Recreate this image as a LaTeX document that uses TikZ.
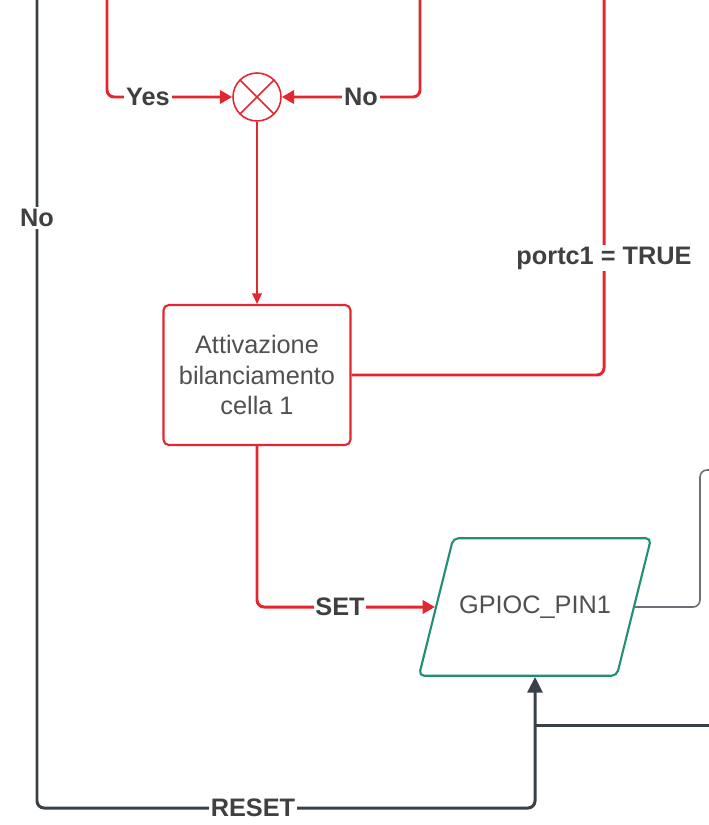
\documentclass[tikz,border=0pt]{standalone}
\usepackage{fontspec}
\setmainfont{Liberation Sans}
\usetikzlibrary{shapes.geometric,arrows.meta,positioning}
\definecolor{lucidred}{HTML}{E3262F}
\definecolor{slategray}{HTML}{3A4048}
\definecolor{tealedge}{HTML}{1F8F74}
\definecolor{textgray}{HTML}{505050}

\begin{document}
\begin{tikzpicture}[x=0.02cm,y=-0.02cm,
  every node/.style={font=\fontsize{14.4}{17.5}\selectfont},
  redline/.style={draw=lucidred,line width=1.7pt,rounded corners=4pt},
  thinred/.style={draw=lucidred,line width=0.9pt},
  darkline/.style={draw=slategray,line width=1.7pt,rounded corners=4pt},
  thingray/.style={draw=slategray!75,line width=0.9pt,rounded corners=4pt},
  redtip/.style={-{Triangle[length=7pt,width=7.5pt]}},
  darktip/.style={-{Triangle[length=9pt,width=8.5pt]}},
  lbl/.style={fill=white,inner sep=1pt,font=\fontsize{14.4}{17}\selectfont\bfseries,text=black!75}]
  \useasboundingbox (0,0) rectangle (709,825);

  % ends that leave the picture
  \coordinate (yesTop) at (107,0);
  \coordinate (noTop) at (420,0);
  \coordinate (trueTop) at (604,0);
  \coordinate (noLeftTop) at (37,0);
  \coordinate (resetRow) at (37,808);
  \coordinate (rightIn) at (709,725);
  \coordinate (outCorner) at (700,470);
  \coordinate (outRight) at (709,470);

  % blocks
  \node[circle,thinred,minimum size=0.96cm,inner sep=0pt,
    path picture={\draw[thinred] (path picture bounding box.north west) -- (path picture bounding box.south east)
      (path picture bounding box.south west) -- (path picture bounding box.north east);}] (mix) at (257,97) {};
  \node[draw=lucidred,line width=1.2pt,rounded corners=3pt,minimum width=3.74cm,minimum height=2.8cm,
    align=center,text=textgray] (att) at (257,375) {Attivazione\\bilanciamento\\cella 1};
  \node[trapezium,trapezium left angle=76,trapezium right angle=104,trapezium stretches body=true,
    draw=tealedge,line width=1.2pt,rounded corners=3pt,minimum width=4.6cm,
    text height=10.5pt,text depth=3pt,inner ysep=32.4pt,
    text=textgray] (gpio) at (535,607) {GPIOC\_PIN1};

  % connectors
  \draw[redline,redtip] (yesTop) |- (mix.west);
  \draw[redline,redtip] (noTop) |- (mix.east);
  \draw[thinred,-{Triangle[length=6pt,width=5.5pt]}] (mix.south) -- (att.north);
  \draw[redline] (att.east) -| (trueTop);
  \draw[redline,redtip] (att.south) |- (gpio.west);
  \draw[thingray] (gpio.east) -| (outCorner) -- (outRight);
  \draw[darkline,darktip] (noLeftTop) |- (gpio.south |- resetRow) -- (gpio.south);
  \draw[darkline] (rightIn) -- (gpio.south |- rightIn);

  % labels
  \node[lbl] (yes) at (148,97) {Yes};
  \node[lbl] (noR) at (361,97) {No};
  \node[lbl] (noL) at (37,218) {No};
  \node[lbl] (portTrue) at (604,258) {portc1 = TRUE};
  \node[lbl] (set) at (340,607) {SET};
  \node[lbl] (reset) at (253,808) {RESET};
\end{tikzpicture}
\end{document}
